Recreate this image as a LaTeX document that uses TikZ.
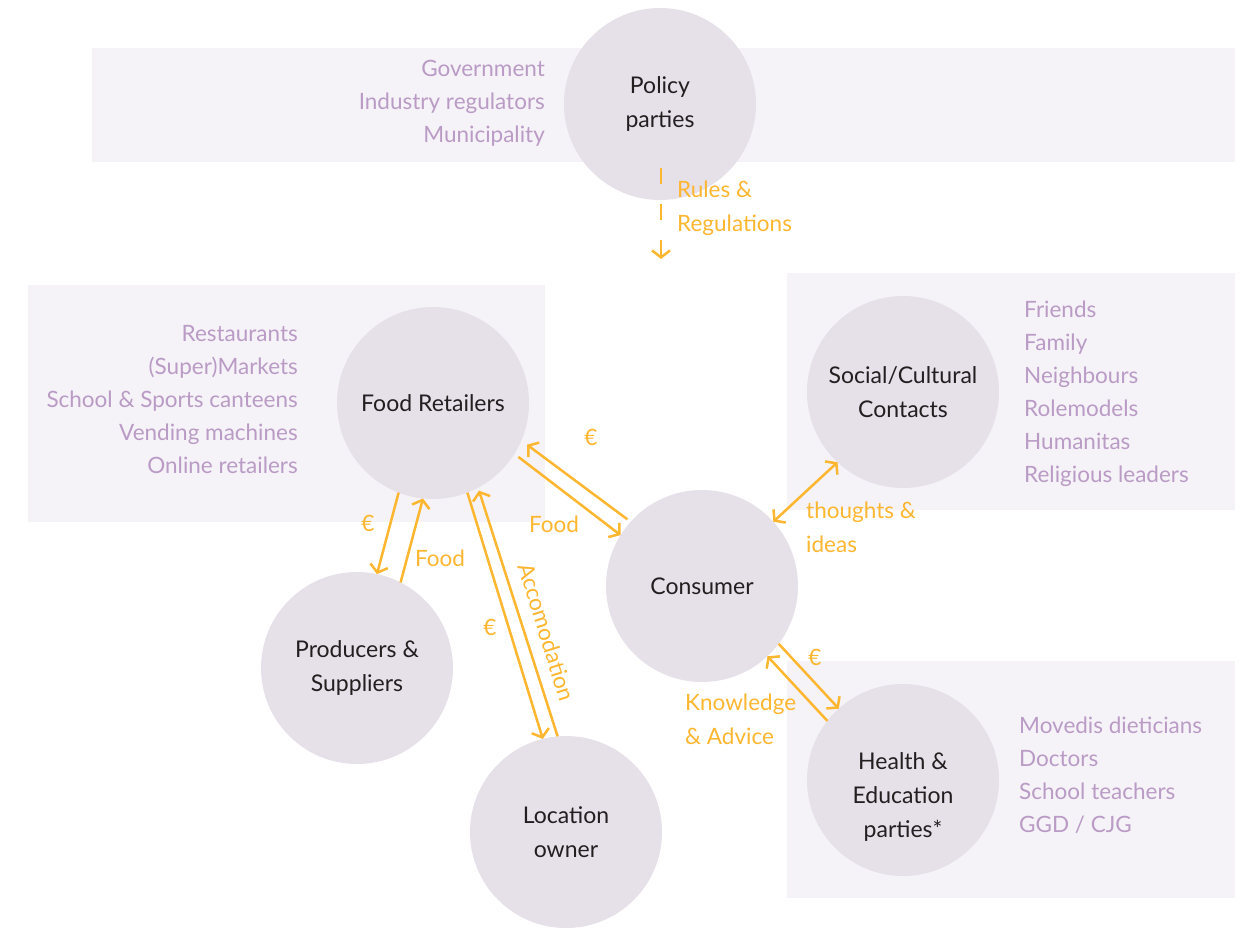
\documentclass[tikz,border=0pt]{standalone}
\usepackage{fontspec}
\setmainfont{Lato}
\usetikzlibrary{arrows.meta}
\definecolor{band}{HTML}{F5F3F7}
\definecolor{disc}{HTML}{E6E0E9}
\definecolor{lilac}{HTML}{BA9BC6}
\definecolor{amber}{HTML}{FDB630}
\definecolor{ink}{HTML}{231F20}
\tikzset{
  every picture/.style={line join=round, >={Straight Barb[length=7pt,width=18pt]}},
  party/.style={circle, fill=disc, minimum size=192pt, inner sep=0pt, outer sep=0pt, text=ink, align=center, font=\fontsize{23}{34}\selectfont},
  partytxt/.style={inner sep=0pt, text=ink, align=center, font=\fontsize{23}{34}\selectfont},
  members/.style={inner sep=0pt, text=lilac, font=\fontsize{22.5}{33}\selectfont},
  flow/.style={draw=amber, line width=2.5pt},
  flowtxt/.style={inner sep=0pt, text=amber, align=left, font=\fontsize{22.5}{34}\selectfont},
}

\begin{document}
\begin{tikzpicture}[x=1pt,y=-1pt]
\useasboundingbox (0,0) rectangle (1248,927);
\clip (0,0) rectangle (1248,927);
% background bands
\fill[band] (92,48) rectangle (1235,162);
\fill[band] (28,285) rectangle (545,522);
\fill[band] (787,273) rectangle (1235,510);
\fill[band] (787,661) rectangle (1235,898);
% parties
\node[party] (policy) at (660,104) {Policy\\parties};
\node[party] (retail) at (433,403) {Food Retailers};
\node[party] (social) at (903,392) {Social/Cultural\\Contacts};
\node[party] (consumer) at (702,586) {Consumer};
\node[party] (producer) at (357,668) {Producers \&\\Suppliers};
\node[party] (location) at (566,832) {Location\\owner};
\node[party] (health) at (903,780) {};
\node[partytxt] (healthtxt) at ([yshift=-17pt]health.center) {Health \&\\Education\\parties*};
% who belongs to each party
\node[members, anchor=east, align=right] (policylist) at (545,103) {Government\\Industry regulators\\Municipality};
\node[members, anchor=east, align=right] (retaillist) at (298,400) {Restaurants\\(Super)Markets\\School \& Sports canteens\\Vending machines\\Online retailers};
\node[members, anchor=west, align=left] (sociallist) at (1024,394) {Friends\\Family\\Neighbours\\Rolemodels\\Humanitas\\Religious leaders};
\node[members, anchor=west, align=left] (healthlist) at (1019,775) {Movedis dieticians\\Doctors\\School teachers\\GGD / CJG};
% rules from policy makers
\coordinate (ruletop) at (661,168);
\coordinate (ruleend) at (661,259);
\draw[flow, ->, dash pattern=on 16pt off 20pt] (ruletop) -- (ruleend);
\node[flowtxt, anchor=west] (rules) at (677,208) {Rules \&\\Regulations};
% flows between the parties
\draw[flow, ->, shorten <=4pt, shorten >=7pt] (consumer.138) -- (retail.-23);
\draw[flow, ->, shorten <=5pt] (retail.-32) -- (consumer.148);
\draw[flow, ->] (retail.-111) -- (producer.78);
\draw[flow, ->] (producer.63) -- (retail.-96);
\draw[flow, ->] (retail.-69) -- (location.104);
\draw[flow, ->, shorten >=3pt] (location.95) -- (retail.-62);
\draw[flow, <->] (consumer.42) -- (social.-133);
\draw[flow, ->] (consumer.-37) -- (health.132);
\draw[flow, ->] (health.142) -- (consumer.-47);
% flow labels
\node[flowtxt] (euro1) at (591,437) {€};
\node[flowtxt] (food1) at (554,524) {Food};
\node[flowtxt] (euro2) at (368,523) {€};
\node[flowtxt] (food2) at (440,558) {Food};
\node[flowtxt] (euro3) at (490,627) {€};
\node[flowtxt, rotate=-72.7] (accom) at (547,632) {Accomodation};
\node[flowtxt, anchor=west] (ideas) at (806,527) {thoughts \&\\ideas};
\node[flowtxt] (euro4) at (815,657) {€};
\node[flowtxt, anchor=west] (advice) at (685,719) {Knowledge\\\& Advice};
\end{tikzpicture}
\end{document}
